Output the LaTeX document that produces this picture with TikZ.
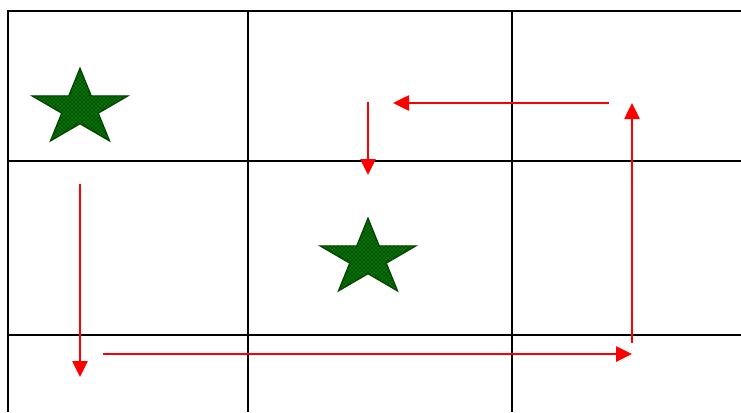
\documentclass[tikz,border=0pt]{standalone}
\usepackage{tikz}
\usetikzlibrary{arrows.meta,patterns}
\definecolor{leafgreen}{HTML}{008000}
\definecolor{darkleaf}{HTML}{004000}

\newcommand{\weavestar}[2]{% centre x, centre y (pixels)
  \fill[leafgreen] plot[samples at={0,...,10}] ({#1+(mod(\x,2)==0 ? 50.5 : 19.3)*cos(90+36*\x)},{#2-(mod(\x,2)==0 ? 40.4 : 15.4)*sin(90+36*\x)}) -- cycle;
  \path[pattern=crosshatch,pattern color=darkleaf] plot[samples at={0,...,10}] ({#1+(mod(\x,2)==0 ? 50.5 : 19.3)*cos(90+36*\x)},{#2-(mod(\x,2)==0 ? 40.4 : 15.4)*sin(90+36*\x)}) -- cycle;
  \draw[darkleaf,line width=0.8pt,line join=miter] plot[samples at={0,...,10}] ({#1+(mod(\x,2)==0 ? 50.5 : 19.3)*cos(90+36*\x)},{#2-(mod(\x,2)==0 ? 40.4 : 15.4)*sin(90+36*\x)}) -- cycle;
}

\begin{document}
\begin{tikzpicture}[
  x=0.75pt,y=-0.75pt,
  gridline/.style={draw=black,line width=1.1pt},
  movearr/.style={-{Triangle[length=12pt,width=11.5pt]},draw=red,fill=red,line width=1.1pt}
]
\useasboundingbox (0,0) rectangle (741,412);
% grid, cut off on the right and at the bottom
\draw[gridline] (8,412) -- (8,11) -- (741,11);
\foreach \gx in {248,512} \draw[gridline] (\gx,11) -- (\gx,412);
\foreach \gy in {161,335} \draw[gridline] (8,\gy) -- (741,\gy);
% stars
\weavestar{80}{108.4}
\weavestar{368}{258.4}
% path ends
\coordinate (p1s) at (80,184);  \coordinate (p1e) at (80,377);
\coordinate (p2s) at (103,354); \coordinate (p2e) at (632,354);
\coordinate (p3s) at (632,343); \coordinate (p3e) at (632,103);
\coordinate (p4s) at (609,103); \coordinate (p4e) at (393,103);
\coordinate (p5s) at (368,102); \coordinate (p5e) at (368,175);
\draw[movearr] (p1s) -- (p1e);
\draw[movearr] (p2s) -- (p2e);
\draw[movearr] (p3s) -- (p3e);
\draw[movearr] (p4s) -- (p4e);
\draw[movearr] (p5s) -- (p5e);
\end{tikzpicture}
\end{document}
